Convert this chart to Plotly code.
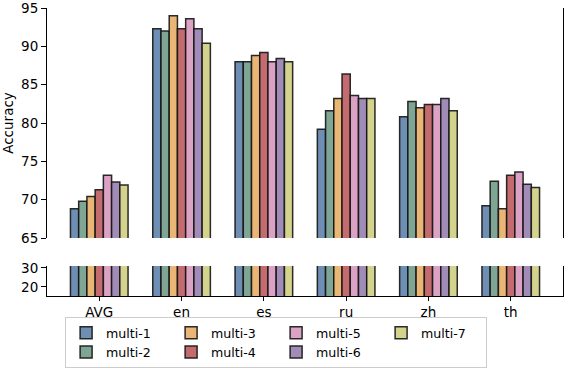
import plotly.graph_objects as go

# categories and series values (accuracy %)
languages = ["AVG", "en", "es", "ru", "zh", "th"]
series_names = ["multi-1", "multi-2", "multi-3", "multi-4", "multi-5", "multi-6", "multi-7"]
multi_1 = [68.8, 92.3, 88.0, 79.2, 80.8, 69.2]
multi_2 = [69.8, 92.0, 88.0, 81.6, 82.8, 72.4]
multi_3 = [70.4, 94.0, 88.8, 83.2, 82.0, 68.8]
multi_4 = [71.3, 92.3, 89.2, 86.4, 82.4, 73.2]
multi_5 = [73.2, 93.6, 88.0, 83.6, 82.4, 73.6]
multi_6 = [72.3, 92.3, 88.4, 83.2, 83.2, 72.0]
multi_7 = [71.9, 90.4, 88.0, 83.2, 81.6, 71.6]
all_values = [multi_1, multi_2, multi_3, multi_4, multi_5, multi_6, multi_7]

colors = ["#6e8fb3", "#7fa594", "#eab676", "#c36b6e", "#dba2c4", "#a18cb8", "#d4d38e"]
# matplotlib legend fills column by column (ncol=4)
legend_rank = [1, 5, 2, 6, 3, 7, 4]

upper_ticks = [65, 70, 75, 80, 85, 90, 95]
lower_ticks = [20, 30]

FONT = "DejaVu Sans"
x_idx = list(range(len(languages)))

fig = go.Figure()
for name, vals, col, rank in zip(series_names, all_values, colors, legend_rank):
    for yax, show in (("y", True), ("y2", False)):
        fig.add_trace(go.Bar(
            x=x_idx, y=vals, name=name, yaxis=yax, xaxis="x",
            marker=dict(color=col, line=dict(color="rgba(20,20,20,0.9)", width=1.5)),
            showlegend=show, legendrank=rank, legendgroup=name,
            offsetgroup=name,
        ))

xrange_ = [-0.635, 5.635]
axis_font = dict(family=FONT, size=13.5, color="black")

fig.update_layout(
    width=564, height=368,
    margin=dict(l=47, r=1, t=8, b=72, autoexpand=False),
    paper_bgcolor="white", plot_bgcolor="white",
    barmode="group", bargap=0.3, bargroupgap=0,
    font=dict(family=FONT, size=13.5, color="black"),
    xaxis=dict(
        range=xrange_, anchor="y2", tickvals=x_idx, ticktext=languages,
        showline=True, linecolor="black", linewidth=1,
        ticks="outside", ticklen=4, tickwidth=1, tickcolor="black",
        showgrid=False, zeroline=False, tickfont=axis_font,
    ),
    xaxis2=dict(
        range=xrange_, anchor="y", overlaying="x", side="top",
        showline=True, linecolor="black", linewidth=1,
        showticklabels=False, ticks="", showgrid=False, zeroline=False,
    ),
    yaxis=dict(
        domain=[0.2014, 1], range=[65, 95], anchor="x",
        tickvals=upper_ticks, showline=True, mirror=True,
        linecolor="black", linewidth=1, ticklabeloverflow="allow",
        ticks="outside", ticklen=5, tickwidth=1, tickcolor="black",
        showgrid=False, zeroline=False, tickfont=axis_font,
        title=dict(text="Accuracy", font=dict(family=FONT, size=13.5), standoff=7),
    ),
    yaxis2=dict(
        domain=[0, 0.104], range=[15.2, 31], anchor="x",
        tickvals=lower_ticks, showline=True, mirror=True,
        linecolor="black", linewidth=1,
        ticks="outside", ticklen=5, tickwidth=1, tickcolor="black",
        showgrid=False, zeroline=False, tickfont=axis_font,
    ),
    legend=dict(
        orientation="h", x=0.444, xanchor="center", y=-0.25, yanchor="bottom",
        entrywidth=60, traceorder="normal",
        bordercolor="#cccccc", borderwidth=1, bgcolor="white",
        font=dict(family=FONT, size=12.6, color="black"),
    ),
)

# drop the browser's default body margin so the figure sits at the page origin
fig.write_html(
    "out.html",
    config={"displayModeBar": False},
    post_script="document.body.style.margin='0';",
)
